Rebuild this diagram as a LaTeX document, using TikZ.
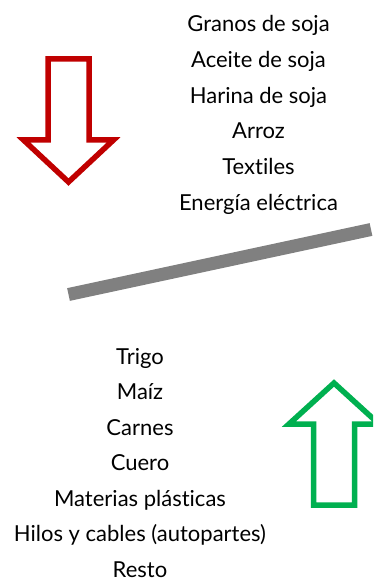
\documentclass[tikz,border=0pt]{standalone}
\usepackage{fontspec}
\setmainfont{Lato}[Ligatures=NoCommon]
\definecolor{flechaRoja}{HTML}{C00000}
\definecolor{flechaVerde}{HTML}{00B050}
\definecolor{barraGris}{HTML}{808080}
\tikzset{
  producto/.style={inner sep=0pt, anchor=base, font=\fontsize{22}{26}\selectfont},
  flecha/.style={line width=5.5pt, fill=white}
}
\begin{document}
\begin{tikzpicture}[x=1pt, y=-1pt]
  \useasboundingbox (0,0) rectangle (373,580);
  \clip (0,0) rectangle (373,580);
  % Upper list of products
  \foreach \txt [count=\i] in {Granos de soja, Aceite de soja, Harina de soja, Arroz, Textiles, Energía eléctrica} {
    \node [producto] (sup\i) at (258.5, {32 + 35.6*(\i-1)}) {\txt};
  }
  % Lower list of products
  \foreach \txt [count=\i] in {Trigo, Maíz, Carnes, Cuero, Materias plásticas, Hilos y cables (autopartes), Resto} {
    \node [producto] (inf\i) at (140, {364 + 35.5*(\i-1)}) {\txt};
  }
  % The red arrow pointing down
  \draw [flecha, draw=flechaRoja] (48,59) -- (89,59) -- (89,140) -- (113.5,140)
    -- (68.5,182) -- (23.5,140) -- (48,140) -- cycle;
  % The green arrow pointing up
  \draw [flecha, draw=flechaVerde] (313.5,505) -- (354.5,505) -- (354.5,424) -- (379,424)
    -- (334,383) -- (289,424) -- (313.5,424) -- cycle;
  % The grey bar between both lists
  \coordinate (barraA) at (68.5,294.5);
  \coordinate (barraB) at (371,229.5);
  \draw [barraGris, line width=13pt] (barraA) -- (barraB);
\end{tikzpicture}
\end{document}
